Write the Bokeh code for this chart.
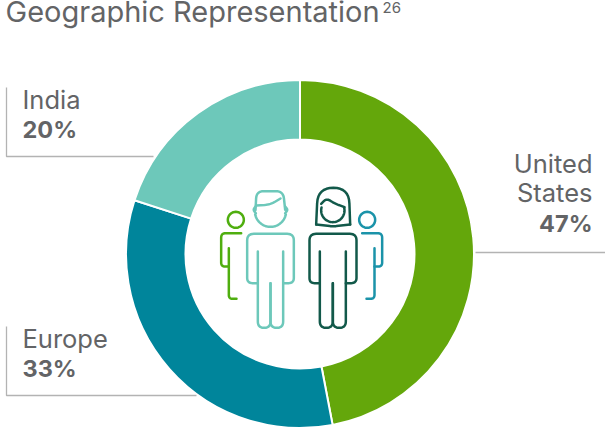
import math
from bokeh.plotting import figure
from bokeh.models import Range1d
from bokeh.core.properties import value
from bokeh.embed import file_html
from bokeh.resources import INLINE

TITLE = "Geographic Representation"
TITLE_NOTE = "26"
regions = ["United States", "Europe", "India"]
shares = [47, 33, 20]
colors = ["#64A70B", "#00859B", "#6DC8BA"]

W, H = 605, 428
CX, CY, R_OUT, R_IN = 299.5, 253.5, 174, 114.5
GREY = "#636466"
FONT = value("Inter")

p = figure(width=W, height=H, output_backend="svg", toolbar_location=None,
           x_range=Range1d(0, W), y_range=Range1d(0, H), min_border=0,
           outline_line_color=None, background_fill_color="white")
p.axis.visible = False
p.grid.visible = False


def yy(v):
    return H - v


# Donut, clockwise from twelve o'clock
start = math.pi / 2
total = sum(shares)
for share, col in zip(shares, colors):
    end = start - 2 * math.pi * share / total
    p.annular_wedge(x=CX, y=yy(CY), inner_radius=R_IN, outer_radius=R_OUT,
                    start_angle=end, end_angle=start, fill_color=col,
                    line_color="white", line_width=2)
    start = end

# Leader lines
LEAD = "#B3B3B3"
for xs, ys in [([6, 6, 153], [87, 156, 156]),
               ([6, 6, 196], [326, 395, 395]),
               ([475, 605], [252, 252])]:
    p.line(xs, [yy(v) for v in ys], line_color=LEAD, line_width=1.3)


def label(x, y, text, size, bold=False, align="left", color=GREY):
    # y is the wanted baseline; the renderer sets the glyphs slightly lower
    p.text(x=[x], y=[yy(y - 0.42 * size)], text=[text], text_font=FONT,
           text_font_size=f"{size}px", text_color=color,
           text_align=align, text_baseline="alphabetic",
           text_font_style="bold" if bold else "normal")


label(5, 23.5, TITLE, 29)
label(382, 13, TITLE_NOTE, 15)
label(22, 110, "India", 25.5)
label(22, 139, f"{shares[2]}%", 23.5, True)
label(22, 349, "Europe", 25.5)
label(22, 378, f"{shares[1]}%", 23.5, True)
label(592, 174, "United", 25.5, align="right")
label(592, 203, "States", 25.5, align="right")
label(592, 233, f"{shares[0]}%", 23.5, True, align="right")


# Icon helpers: coordinates on a 3x grid anchored at (200, 170)
def ix(v):
    return 200 + v / 3


def iy(v):
    return yy(170 + v / 3)


def rounded(pts, r=16):
    xs, ys = [pts[0][0]], [pts[0][1]]
    for i in range(1, len(pts) - 1):
        a, b, c = pts[i - 1], pts[i], pts[i + 1]
        la = math.dist(a, b)
        lc = math.dist(c, b)
        rr = min(r, la / 2, lc / 2)
        s = (b[0] + (a[0] - b[0]) * rr / la, b[1] + (a[1] - b[1]) * rr / la)
        e = (b[0] + (c[0] - b[0]) * rr / lc, b[1] + (c[1] - b[1]) * rr / lc)
        for k in range(9):
            t = k / 8
            xs.append((1 - t) ** 2 * s[0] + 2 * t * (1 - t) * b[0] + t ** 2 * e[0])
            ys.append((1 - t) ** 2 * s[1] + 2 * t * (1 - t) * b[1] + t ** 2 * e[1])
    xs.append(pts[-1][0])
    ys.append(pts[-1][1])
    return xs, ys


def stroke(pts, color, r=16, width=2.5):
    xs, ys = rounded(pts, r)
    p.line([ix(v) for v in xs], [iy(v) for v in ys], line_color=color,
           line_width=width, line_cap="round", line_join="round")


def arc(cx, cy, r, a0, a1, color, width=2.5):
    n = 40
    angs = [math.radians(a0 + (a1 - a0) * i / n) for i in range(n + 1)]
    p.line([ix(cx + r * math.cos(a)) for a in angs],
           [iy(cy + r * math.sin(a)) for a in angs],
           line_color=color, line_width=width, line_cap="round")


def adult(left, inner_l, mid, inner_r, right, color):
    stroke([(inner_l, 243), (inner_l, 472), (mid, 472), (mid, 338)], color, 20)
    stroke([(mid, 338), (mid, 472), (inner_r, 472), (inner_r, 243)], color, 20)
    stroke([(inner_l, 338), (left, 338), (left, 190), (right, 190),
            (right, 338), (inner_r, 338)], color, 20)


MAN = "#6DC8BA"
WOMAN = "#12594A"
LIME = "#4FAE0F"
TEAL = "#1B93A9"

# Man
adult(140, 172, 210, 248, 280, MAN)
arc(210, 122, 47, 12, 168, MAN)
stroke([(165, 118), (168, 62), (248, 62), (254, 118)], MAN, 22)
stroke([(168, 105), (210, 102), (240, 84)], MAN, 30)
stroke([(165, 108), (158, 118), (166, 128)], MAN, 6)
stroke([(254, 108), (262, 118), (254, 128)], MAN, 6)

# Woman
adult(327, 358, 397, 436, 468, WOMAN)
stroke([(347, 162), (352, 52), (445, 52), (449, 162)], WOMAN, 50)
stroke([(347, 162), (398, 168), (449, 162)], WOMAN, 10)
arc(397, 120, 35, -15, 195, WOMAN)
stroke([(362, 100), (378, 84), (405, 100), (432, 110)], WOMAN, 14)

# Smaller figures on each side
arc(106, 148, 24, 0, 360, LIME)
stroke([(122, 188), (62, 188), (62, 288), (85, 288)], LIME, 14)
stroke([(85, 233), (85, 385), (108, 385)], LIME, 14)
arc(500, 148, 24, 0, 360, TEAL)
stroke([(485, 188), (545, 188), (545, 288), (522, 288)], TEAL, 14)
stroke([(522, 233), (522, 385), (498, 385)], TEAL, 14)

open("out.html", "w").write(file_html(p, INLINE))
